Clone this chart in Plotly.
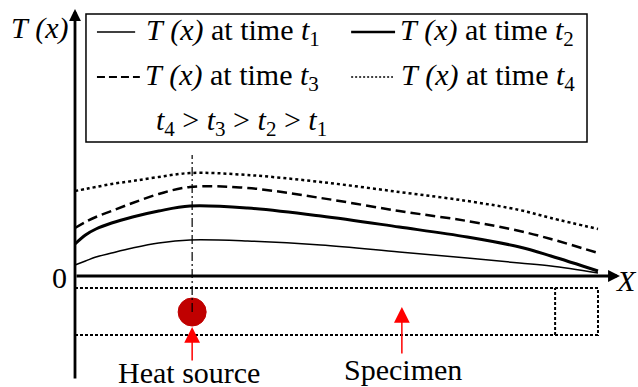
import plotly.graph_objects as go

# ---- data (position along specimen in % of its length, temperature rise in arbitrary units) ----
pos = [0, 2, 4, 7, 11, 16, 22, 33, 47, 62, 75, 85, 91, 100]
T_t1 = [11, 15, 19, 23, 28, 33, 36, 35, 31, 24, 18, 13, 10, 3]
T_t2 = [32, 41, 47, 53, 59, 65, 70, 68, 60, 49, 39, 29, 20, 5]
T_t3 = [48, 54, 59, 65, 73, 82, 89, 88, 78, 65, 55, 45, 37, 23]
T_t4 = [85, 87, 89, 92, 95, 99, 103, 101, 94, 84, 75, 66, 58, 47]

series_names = ["t1", "t2", "t3", "t4"]
heat_source_pos = 22.4
specimen_end = 100
specimen_inner = 91.8
specimen_bottom, specimen_top = -59, -12
legend_labels = [
    "<i>T</i> <i>(x)</i> at time <i>t</i><sub>1</sub>",
    "<i>T</i> <i>(x)</i> at time <i>t</i><sub>2</sub>",
    "<i>T</i> <i>(x)</i> at time <i>t</i><sub>3</sub>",
    "<i>T</i> <i>(x)</i> at time <i>t</i><sub>4</sub>",
]
order_label = ("<i>t</i><sub>4</sub> > <i>t</i><sub>3</sub> > "
               "<i>t</i><sub>2</sub> > <i>t</i><sub>1</sub>")

FONT = "Times New Roman, Liberation Serif, DejaVu Serif, serif"
styles = {
    "t1": dict(color="black", width=1.5, dash="solid"),
    "t2": dict(color="black", width=3, dash="solid"),
    "t3": dict(color="black", width=2.5, dash="10px,5px"),
    "t4": dict(color="black", width=2.5, dash="3px,3px"),
}

fig = go.Figure()
for name, vals in zip(series_names, [T_t1, T_t2, T_t3, T_t4]):
    fig.add_trace(go.Scatter(x=pos, y=vals, mode="lines", line=styles[name],
                             line_shape="spline", showlegend=False, hoverinfo="skip"))

shapes = []
annotations = []

# legend box
shapes.append(dict(type="rect", xref="x", yref="y", x0=2.1, x1=97.9, y0=134, y1=262,
                   line=dict(color="black", width=1.5), fillcolor="white", layer="below"))
leg_rows = [244, 244, 199, 199]
leg_x0 = [4.2, 52.8, 4.2, 52.8]
leg_x1 = [11.5, 61.2, 12.4, 60.8]
leg_tx = [13.2, 61.8, 13.0, 62.0]
leg_styles = [
    dict(color="black", width=1.5),
    dict(color="black", width=2.5),
    dict(color="black", width=2, dash="8px,4px"),
    dict(color="black", width=1.5, dash="2px,2px"),
]
for i in range(4):
    shapes.append(dict(type="line", xref="x", yref="y", x0=leg_x0[i], x1=leg_x1[i],
                       y0=leg_rows[i], y1=leg_rows[i], line=leg_styles[i]))
    annotations.append(dict(x=leg_tx[i], y=leg_rows[i], xref="x", yref="y", text=legend_labels[i],
                            showarrow=False, xanchor="left", yanchor="middle",
                            font=dict(family=FONT, size=30, color="black")))
annotations.append(dict(x=31.9, y=154, xref="x", yref="y", text=order_label, showarrow=False,
                        xanchor="center", yanchor="middle",
                        font=dict(family=FONT, size=30, color="black")))

# specimen (dotted rectangle with end section)
shapes.append(dict(type="rect", xref="x", yref="y", x0=0, x1=specimen_end,
                   y0=specimen_bottom, y1=specimen_top,
                   line=dict(color="black", width=2, dash="3px,2px")))
shapes.append(dict(type="line", xref="x", yref="y", x0=specimen_inner, x1=specimen_inner,
                   y0=specimen_bottom, y1=specimen_top,
                   line=dict(color="black", width=2, dash="3px,2px")))

# heat source circle
shapes.append(dict(type="circle", xref="x", yref="y",
                   x0=heat_source_pos - 2.68, x1=heat_source_pos + 2.68, y0=-50, y1=-22,
                   fillcolor="#C00000", line=dict(color="#C00000", width=1)))
# heat source axis line
shapes.append(dict(type="line", xref="x", yref="y", x0=heat_source_pos, x1=heat_source_pos,
                   y0=-36, y1=121, line=dict(color="black", width=1.2, dash="9px,3px,2px,3px")))

# axes with arrows
annotations.append(dict(x=0, y=267, ax=0, ay=-104, xref="x", yref="y", axref="x", ayref="y",
                        text="", showarrow=True, arrowhead=2, arrowsize=0.85, arrowwidth=2.8,
                        arrowcolor="black"))
annotations.append(dict(x=104.2, y=0, ax=0, ay=0, xref="x", yref="y", axref="x", ayref="y",
                        text="", showarrow=True, arrowhead=2, arrowsize=0.85, arrowwidth=2.8,
                        arrowcolor="black"))
# red pointer arrows
annotations.append(dict(x=heat_source_pos, y=-51, ax=heat_source_pos, ay=-86, xref="x", yref="y",
                        axref="x", ayref="y", text="", showarrow=True, arrowhead=2,
                        arrowsize=2.1, arrowwidth=1.5, arrowcolor="#FF0000"))
annotations.append(dict(x=62.5, y=-31, ax=62.5, ay=-79, xref="x", yref="y",
                        axref="x", ayref="y", text="", showarrow=True, arrowhead=2,
                        arrowsize=2.1, arrowwidth=1.5, arrowcolor="#FF0000"))

# labels
annotations += [
    dict(x=-6.8, y=248, text="<i>T</i> <i>(x)</i>", showarrow=False, xanchor="center", yanchor="middle",
         font=dict(family=FONT, size=30, color="black")),
    dict(x=-2.9, y=-1, text="0", showarrow=False, xanchor="center", yanchor="middle",
         font=dict(family=FONT, size=30, color="black")),
    dict(x=105.4, y=-4, text="<i>X</i>", showarrow=False, xanchor="center", yanchor="middle",
         font=dict(family=FONT, size=30, color="black")),
    dict(x=21.8, y=-96, text="Heat source", showarrow=False, xanchor="center", yanchor="middle",
         font=dict(family=FONT, size=30, color="black")),
    dict(x=62.7, y=-93, text="Specimen", showarrow=False, xanchor="center", yanchor="middle",
         font=dict(family=FONT, size=30, color="black")),
]
for a in annotations:
    a.setdefault("xref", "x")
    a.setdefault("yref", "y")

fig.update_layout(
    width=638, height=387, margin=dict(l=0, r=0, t=0, b=0),
    paper_bgcolor="white", plot_bgcolor="white",
    font=dict(family=FONT),
    xaxis=dict(range=[-14.34, 107.65], visible=False, fixedrange=True),
    yaxis=dict(range=[-111, 276], visible=False, fixedrange=True),
    shapes=shapes, annotations=annotations, showlegend=False,
)
fig.write_html("out.html")
